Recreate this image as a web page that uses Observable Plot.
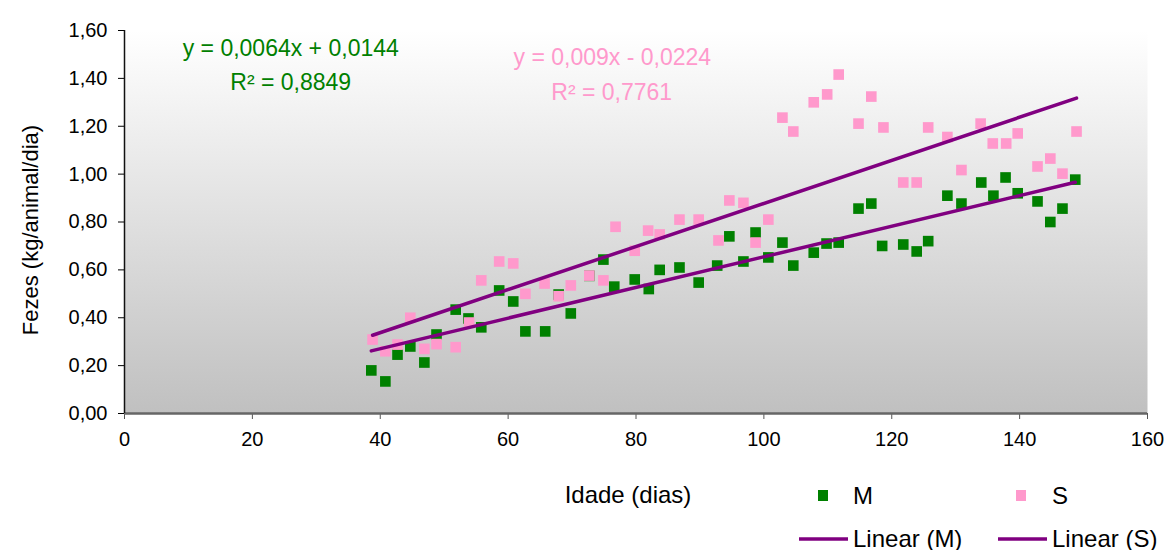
<!DOCTYPE html>
<html>
<head>
<meta charset="utf-8">
<script src="https://cdn.jsdelivr.net/npm/d3@7"></script>
<script src="https://cdn.jsdelivr.net/npm/@observablehq/plot@0.6"></script>
<style>
  html, body { margin: 0; padding: 0; background: #ffffff; }
  #chart { width: 1166px; height: 550px; position: relative; }
  svg { font-family: "Liberation Sans", Arial, sans-serif; }
</style>
</head>
<body>
<div id="chart"></div>
<script>
// ---- data ----
const xM = [38.6, 40.8, 42.7, 44.7, 46.9, 48.8, 51.8, 53.8, 55.8, 58.6, 60.8, 62.7, 65.8, 67.9, 69.8, 72.7, 74.9, 76.6, 79.8, 82.0, 83.7, 86.8, 89.8, 92.7, 94.6, 96.8, 98.7, 100.7, 102.9, 104.6, 107.8, 109.8, 111.7, 114.8, 116.8, 118.5, 121.8, 123.9, 125.7, 128.7, 130.9, 134.0, 135.9, 137.8, 139.7, 142.8, 144.8, 146.7, 148.7];
const yM = [0.18, 0.134, 0.246, 0.28, 0.213, 0.33, 0.434, 0.397, 0.36, 0.514, 0.468, 0.343, 0.343, 0.497, 0.418, 0.575, 0.643, 0.53, 0.56, 0.52, 0.60, 0.61, 0.547, 0.618, 0.74, 0.635, 0.756, 0.652, 0.714, 0.618, 0.672, 0.71, 0.714, 0.856, 0.877, 0.70, 0.706, 0.677, 0.72, 0.91, 0.877, 0.965, 0.91, 0.986, 0.92, 0.886, 0.80, 0.856, 0.977];
const xS = [38.8, 40.8, 42.7, 44.7, 46.9, 48.8, 51.8, 53.9, 55.8, 58.6, 60.8, 62.7, 65.7, 67.9, 69.8, 72.7, 74.9, 76.8, 79.8, 81.9, 83.7, 86.8, 89.8, 92.9, 94.6, 96.8, 98.7, 100.7, 102.9, 104.6, 107.8, 109.9, 111.7, 114.8, 116.8, 118.7, 121.8, 123.9, 125.7, 128.7, 130.9, 133.9, 135.8, 137.9, 139.7, 142.8, 144.8, 146.7, 148.9];
const yS = [0.309, 0.26, 0.288, 0.40, 0.27, 0.29, 0.277, 0.38, 0.556, 0.635, 0.627, 0.50, 0.543, 0.49, 0.535, 0.576, 0.556, 0.78, 0.68, 0.764, 0.748, 0.81, 0.81, 0.723, 0.89, 0.88, 0.714, 0.81, 1.236, 1.178, 1.30, 1.333, 1.416, 1.211, 1.324, 1.195, 0.965, 0.965, 1.195, 1.155, 1.017, 1.211, 1.128, 1.128, 1.17, 1.032, 1.065, 1.002, 1.178];

const seriesNames = ["M", "S"];
const trendSlopes = [0.0064, 0.009];
const trendIntercepts = [0.0144, -0.0224];
const equationTexts = ["y = 0,0064x + 0,0144", "y = 0,009x - 0,0224"];
const r2Texts = ["R² = 0,8849", "R² = 0,7761"];
const legendLabels = ["M", "S", "Linear (M)", "Linear (S)"];

const xTicks = [0, 20, 40, 60, 80, 100, 120, 140, 160];
const yTicks = [0, 0.2, 0.4, 0.6, 0.8, 1.0, 1.2, 1.4, 1.6];
const xTitle = "Idade (dias)";
const yTitle = "Fezes (kg/animal/dia)";

// ---- styling ----
const GREEN = "#008000", PINK = "#ff99cc", PURPLE = "#800080";
const W = 1166, H = 550;
const M = {left: 124, right: 19, top: 30, bottom: 137};

const ptsM = xM.map((x, i) => ({x, y: yM[i]}));
const ptsS = xS.map((x, i) => ({x, y: yS[i]}));
function trend(xs, k) {
  const lo = d3.min(xs), hi = d3.max(xs);
  return [lo, hi].map(x => ({x, y: trendSlopes[k] * x + trendIntercepts[k]}));
}
const lineM = trend(xM, 0), lineS = trend(xS, 1);

// annotation anchor positions (data coordinates)
const annot = [
  {x: 26.0, y: 1.525, text: equationTexts[0], color: GREEN},
  {x: 26.0, y: 1.383, text: r2Texts[0], color: GREEN},
  {x: 76.3, y: 1.487, text: equationTexts[1], color: PINK},
  {x: 76.2, y: 1.341, text: r2Texts[1], color: PINK}
];

const fmt = d => d.toFixed(2).replace(".", ",");

const plot = Plot.plot({
  width: W, height: H,
  marginLeft: M.left, marginRight: M.right, marginTop: M.top, marginBottom: M.bottom,
  style: {fontFamily: '"Liberation Sans", Arial, sans-serif', fontSize: "20px", background: "transparent", overflow: "visible"},
  x: {domain: [0, 160]},
  y: {domain: [0, 1.6]},
  marks: [
    Plot.frame({fill: "url(#plotbg)", stroke: null}),
    Plot.axisX({ticks: xTicks, tickSize: 6, tickPadding: 12, label: null, fontSize: 20, stroke: "#555", color: "#000"}),
    Plot.axisY({ticks: yTicks, tickSize: 6, tickPadding: 11, label: null, tickFormat: fmt, fontSize: 20, color: "#000"}),
    Plot.ruleY([0], {stroke: "#666", strokeWidth: 2.5}),
    Plot.ruleX([0], {stroke: "#111", strokeWidth: 1.5}),
    Plot.dot(ptsM, {x: "x", y: "y", symbol: "square", r: 6.0, fill: GREEN, stroke: null}),
    Plot.dot(ptsS, {x: "x", y: "y", symbol: "square", r: 6.0, fill: PINK, stroke: null}),
    Plot.line(lineM, {x: "x", y: "y", stroke: PURPLE, strokeWidth: 3.5}),
    Plot.line(lineS, {x: "x", y: "y", stroke: PURPLE, strokeWidth: 3.5}),
    Plot.text(annot, {x: "x", y: "y", text: "text", fill: "color", fontSize: 23, lineAnchor: "middle", textAnchor: "middle"})
  ]
});

const svg = d3.select(plot);
const defs = svg.insert("defs", ":first-child");
const g = defs.append("linearGradient").attr("id", "plotbg").attr("x1", 0).attr("y1", 0).attr("x2", 0).attr("y2", 1);
g.append("stop").attr("offset", "0%").attr("stop-color", "#ffffff");
g.append("stop").attr("offset", "100%").attr("stop-color", "#c0c0c0");

// axis titles
svg.append("text").attr("transform", "translate(30,230) rotate(-90)")
  .attr("text-anchor", "middle").attr("dominant-baseline", "central")
  .attr("font-size", 22).attr("fill", "#000").text(yTitle);
svg.append("text").attr("x", 628).attr("y", 494)
  .attr("text-anchor", "middle").attr("dominant-baseline", "central")
  .attr("font-size", 24).attr("fill", "#000").text(xTitle);

// legend
const leg = svg.append("g").attr("font-size", 24).attr("fill", "#000").attr("text-anchor", "start");
leg.append("rect").attr("x", 818).attr("y", 490).attr("width", 10).attr("height", 11).attr("fill", GREEN);
leg.append("text").attr("x", 853).attr("y", 495).attr("dominant-baseline", "central").text(legendLabels[0]);
leg.append("rect").attr("x", 1016).attr("y", 490).attr("width", 10).attr("height", 11).attr("fill", PINK);
leg.append("text").attr("x", 1052).attr("y", 495).attr("dominant-baseline", "central").text(legendLabels[1]);
leg.append("line").attr("x1", 799).attr("x2", 848).attr("y1", 539).attr("y2", 539).attr("stroke", PURPLE).attr("stroke-width", 3.5);
leg.append("text").attr("x", 853).attr("y", 538).attr("dominant-baseline", "central").text(legendLabels[2]);
leg.append("line").attr("x1", 998).attr("x2", 1047).attr("y1", 539).attr("y2", 539).attr("stroke", PURPLE).attr("stroke-width", 3.5);
leg.append("text").attr("x", 1052).attr("y", 538).attr("dominant-baseline", "central").text(legendLabels[3]);

document.getElementById("chart").appendChild(plot);
</script>
</body>
</html>
